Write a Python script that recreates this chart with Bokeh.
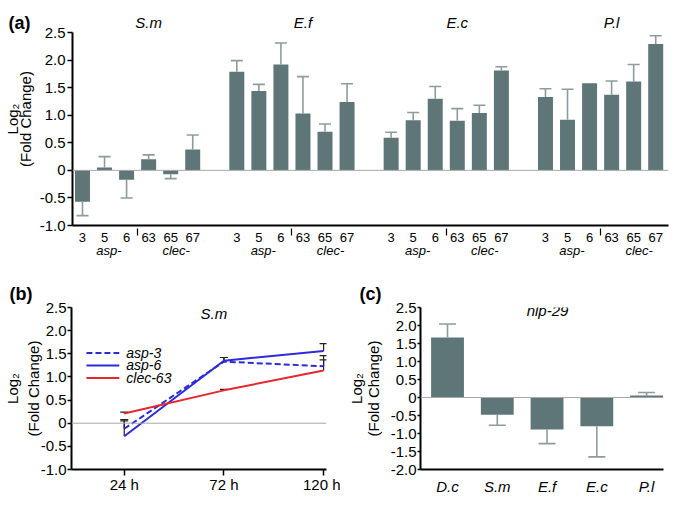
import math
from bokeh.plotting import figure
from bokeh.models import Range1d, FixedTicker, Label, Span, LinearAxis
from bokeh.layouts import column, row
from bokeh.embed import file_html
from bokeh.resources import INLINE

FONT = "Liberation Sans"
BAR = "#5f7679"
ERR = "#8d9b9d"
BLUE = "#2b2bd9"
RED = "#e8262b"

# ---------------- data ----------------
# panel (a)
species_a = ["S.m", "E.f", "E.c", "P.l"]
genes_a = ["3", "5", "6", "63", "65", "67"]
families_a = ["asp-", "clec-"]
sm_vals = [-0.57, 0.05, -0.17, 0.20, -0.07, 0.38]
sm_errs = [-0.82, 0.25, -0.50, 0.28, -0.15, 0.64]
ef_vals = [1.79, 1.44, 1.92, 1.03, 0.70, 1.24]
ef_errs = [1.99, 1.56, 2.31, 1.70, 0.84, 1.57]
ec_vals = [0.59, 0.91, 1.30, 0.90, 1.04, 1.81]
ec_errs = [0.69, 1.05, 1.52, 1.12, 1.18, 1.88]
pl_vals = [1.33, 0.92, 1.58, 1.37, 1.61, 2.29]
pl_errs = [1.48, 1.47, 1.58, 1.62, 1.92, 2.44]
yticks_a = [-1.0, -0.5, 0.0, 0.5, 1.0, 1.5, 2.0, 2.5]
ylabels_a = ["-1.0", "-0.5", "0", "0.5", "1.0", "1.5", "2.0", "2.5"]

# panel (b)
hours_b = [24, 72, 120]
times_b = ["24 h", "72 h", "120 h"]
series_b = ["asp-3", "asp-6", "clec-63"]
asp3_vals = [-0.12, 1.33, 1.23]
asp3_hi = [0.05, 1.42, 1.46]
asp6_vals = [-0.28, 1.35, 1.56]
asp6_hi = [0.08, 1.42, 1.72]
clec63_vals = [0.21, 0.71, 1.14]
clec63_hi = [0.24, 0.73, 1.37]

# panel (c)
species_c = ["D.c", "S.m", "E.f", "E.c", "P.l"]
nlp29_vals = [1.67, -0.48, -0.89, -0.80, 0.055]
nlp29_errs = [2.04, -0.77, -1.28, -1.65, 0.14]
yticks_c = [-2.0, -1.5, -1.0, -0.5, 0.0, 0.5, 1.0, 1.5, 2.0, 2.5]
ylabels_c = ["-2.0", "-1.5", "-1.0", "-0.5", "0", "0.5", "1.0", "1.5", "2.0", "2.5"]


def make_fig(w, h, xr, yr, bl, br, bt, bb, panel, toff, tstand):
    p = figure(width=w, height=h, x_range=Range1d(*xr), y_range=Range1d(*yr),
               output_backend="svg", toolbar_location=None,
               min_border_left=bl, min_border_right=br,
               min_border_top=bt, min_border_bottom=bb)
    p.outline_line_color = None
    p.xgrid.visible = False
    p.ygrid.visible = False
    p.background_fill_color = "white"
    p.border_fill_color = "white"
    for ax in (p.xaxis[0], p.yaxis[0]):
        ax.axis_line_color = "black"
        ax.axis_line_width = 2
        ax.major_tick_line_color = "black"
        ax.major_tick_line_width = 1.5
        ax.major_tick_in = 0
        ax.minor_tick_line_color = None
        ax.major_label_text_font = FONT
        ax.major_label_text_color = "black"
        ax.major_label_text_font_size = "15px"
        ax.axis_label_text_font = FONT
        ax.axis_label_text_font_size = "15px"
        ax.axis_label_text_font_style = "normal"
        ax.axis_label_text_color = "black"
    if panel is not None:
        p.title.text = panel
        p.title.align = "left"
        p.title.offset = toff
        p.title.vertical_align = "top"
        p.title.standoff = tstand
        p.title.text_font = FONT
        p.title.text_font_size = "18px"
        p.title.text_font_style = "bold"
        p.title.text_color = "black"
    p.tags = [dict(w=w, h=h, xr=xr, yr=yr, bl=bl, br=br, bt=bt, bb=bb)]
    return p


def add_outer_ylabel(p, text, standoff, ticks=(), labels=(), lab_standoff=0):
    ax = LinearAxis(ticker=FixedTicker(ticks=list(ticks)), axis_label=text,
                    major_label_overrides={t: l for t, l in zip(ticks, labels)},
                    axis_line_color=None, major_tick_line_color=None,
                    minor_tick_line_color=None, major_tick_out=0, major_tick_in=0,
                    minor_tick_out=0, minor_tick_in=0, major_label_standoff=lab_standoff,
                    major_label_text_font=FONT, major_label_text_font_size="18px",
                    major_label_text_font_style="bold", major_label_text_color="black",
                    axis_label_standoff=standoff, axis_label_text_font=FONT,
                    axis_label_text_font_size="15px", axis_label_text_font_style="normal",
                    axis_label_text_color="black")
    p.add_layout(ax, "left")


def to_data(p, ox, oy, px, py):
    g = p.tags[0]
    fw = g["w"] - g["bl"] - g["br"]
    fh = g["h"] - g["bt"] - g["bb"]
    x0, x1 = g["xr"]
    y0, y1 = g["yr"]
    return (x0 + (px - ox - g["bl"]) / fw * (x1 - x0),
            y1 - (py - oy - g["bt"]) / fh * (y1 - y0))


def inner_label(p, ox, oy, px, py, text, size="15px", style="normal", align="center"):
    x, y = to_data(p, ox, oy, px, py)
    p.add_layout(Label(x=x, y=y, text=text, text_font=FONT, text_font_size=size,
                       text_font_style=style, text_align=align, text_baseline="middle",
                       text_color="black"))


# ---------------- panel (a) ----------------
# frame spans 12..225 px vertically; the y axis itself is bounded to -1..2.5
pa = make_fig(677, 270, (-0.453, 26.58), (-1.0, 2.863), 72, 9, 12, 45, None, 0, 0)
all_vals = [sm_vals, ef_vals, ec_vals, pl_vals]
all_errs = [sm_errs, ef_errs, ec_errs, pl_errs]
xs, tops, ex, ey0, ey1 = [], [], [], [], []
tick_pos, tick_lab, sep_pos = [], [], []
fam_pos, fam_lab, sp_pos = [], [], []
for g, (vals, errs) in enumerate(zip(all_vals, all_errs)):
    for i, (v, e) in enumerate(zip(vals, errs)):
        x = g * 7 + i
        xs.append(x)
        tops.append(v)
        tick_pos.append(x)
        tick_lab.append(genes_a[i])
        if e != v:
            ex.append(x)
            ey0.append(v)
            ey1.append(e)
    sep_pos.append(g * 7 + 2.5)
    fam_pos += [g * 7 + 1.2, g * 7 + 4.25]
    fam_lab += families_a
    sp_pos.append(g * 7 + 3.0)

pa.add_layout(Span(location=0, dimension="width", line_color="#a8a8a8", line_width=1))
pa.vbar(x=xs, top=tops, bottom=0, width=0.68, fill_color=BAR, line_color=None)
pa.segment(x0=ex, y0=ey0, x1=ex, y1=ey1, line_color=ERR, line_width=1.6)
pa.scatter(x=ex, y=ey1, marker="dash", size=12, line_color=ERR, line_width=1.6)

xa = pa.xaxis[0]
xa.ticker = FixedTicker(ticks=tick_pos, minor_ticks=sep_pos)
xa.major_label_overrides = {t: l for t, l in zip(tick_pos, tick_lab)}
xa.major_tick_line_color = None
xa.major_tick_out = 0
xa.major_label_standoff = -3
xa.major_label_text_font_size = "13px"
xa.minor_tick_line_color = "black"
xa.minor_tick_line_width = 1.2
xa.minor_tick_in = -3
xa.minor_tick_out = 10

fam_axis = LinearAxis(ticker=FixedTicker(ticks=fam_pos),
                      major_label_overrides={t: l for t, l in zip(fam_pos, fam_lab)},
                      axis_line_color=None, major_tick_line_color=None,
                      minor_tick_line_color=None, major_tick_out=0, major_tick_in=0,
                      major_label_standoff=-2, major_label_text_font=FONT,
                      major_label_text_font_size="13px", major_label_text_font_style="italic",
                      major_label_text_color="black")
pa.add_layout(fam_axis, "below")

# species names over each group (inside the extended frame, above the axis top)
_, ysp = to_data(pa, 0, 0, 0, 22)
for sp, pos in zip(species_a, sp_pos):
    pa.add_layout(Label(x=pos, y=ysp, text=sp, text_font=FONT, text_font_size="15px",
                        text_font_style="italic", text_align="center",
                        text_baseline="middle", text_color="black"))

ya = pa.yaxis[0]
ya.ticker = FixedTicker(ticks=yticks_a)
ya.bounds = (yticks_a[0], yticks_a[-1])
ya.major_label_overrides = {t: l for t, l in zip(yticks_a, ylabels_a)}
ya.major_tick_out = 5
ya.major_label_standoff = 2
ya.axis_label = "(Fold Change)"
ya.axis_label_standoff = 3
add_outer_ylabel(pa, "Log\u2082", -15, ticks=[ysp], labels=["(a)"], lab_standoff=-17)

# ---------------- panel (b) ----------------
OXB, OYB = 0, 270
pb = make_fig(340, 231, (-1.4, 121.4), (-1.0, 2.5), 70, 14, 36, 32, "(b)", -62, 3)
pb.add_layout(Span(location=0, dimension="width", line_color="#a8a8a8", line_width=1))
styles = [(asp3_vals, asp3_hi, BLUE, "6 3"), (asp6_vals, asp6_hi, BLUE, "solid"),
          (clec63_vals, clec63_hi, RED, "solid")]
for vals, hi, col, dash in styles:
    pb.segment(x0=hours_b, y0=vals, x1=hours_b, y1=hi, line_color="#222222", line_width=1.2)
    pb.scatter(x=hours_b, y=hi, marker="dash", size=8, line_color="#222222", line_width=1.2)
for vals, hi, col, dash in styles:
    pb.line(x=hours_b, y=vals, line_color=col, line_width=2, line_dash=dash)

xb = pb.xaxis[0]
xb.ticker = FixedTicker(ticks=hours_b)
xb.major_label_overrides = {t: l for t, l in zip(hours_b, times_b)}
xb.major_tick_out = 6
xb.major_label_standoff = 0
yb = pb.yaxis[0]
yb.ticker = FixedTicker(ticks=yticks_a)
yb.major_label_overrides = {t: l for t, l in zip(yticks_a, ylabels_a)}
yb.major_tick_out = 4
yb.major_label_standoff = 1
yb.axis_label = "(Fold Change)"
yb.axis_label_standoff = -4
add_outer_ylabel(pb, "Log\u2082", 1)

# legend (manual, to match the compact row spacing)
row_y = [351.7, 364.3, 376.9]
for (vals, hi, col, dash), name, ry in zip(styles, series_b, row_y):
    lx0, ly = to_data(pb, OXB, OYB, 85, ry)
    lx1, _ = to_data(pb, OXB, OYB, 118, ry)
    pb.line(x=[lx0, lx1], y=[ly, ly], line_color=col, line_width=2, line_dash=dash)
    inner_label(pb, OXB, OYB, 125, ry, name, size="14px", style="italic", align="left")

inner_label(pb, OXB, OYB, 213, 312, "S.m", style="italic")

# ---------------- panel (c) ----------------
OXC, OYC = 340, 270
pc = make_fig(337, 231, (-0.543, 4.34), (-2.0, 2.5), 80, 14, 37, 31, "(c)", -61, 4)
pc.add_layout(Span(location=0, dimension="width", line_color="#a8a8a8", line_width=1))
xc = list(range(len(species_c)))
pc.vbar(x=xc, top=nlp29_vals, bottom=0, width=0.66, fill_color=BAR, line_color=None)
pc.segment(x0=xc, y0=nlp29_vals, x1=xc, y1=nlp29_errs, line_color=ERR, line_width=1.6)
pc.scatter(x=xc, y=nlp29_errs, marker="dash", size=17, line_color=ERR, line_width=1.6)

xca = pc.xaxis[0]
xca.ticker = FixedTicker(ticks=xc)
xca.major_label_overrides = {t: l for t, l in zip(xc, species_c)}
xca.major_tick_line_color = None
xca.major_tick_out = 0
xca.major_label_standoff = 8
xca.major_label_text_font_style = "italic"
yca = pc.yaxis[0]
yca.ticker = FixedTicker(ticks=yticks_c)
yca.major_label_overrides = {t: l for t, l in zip(yticks_c, ylabels_c)}
yca.major_tick_out = 3
yca.major_label_standoff = 1
yca.axis_label = "(Fold Change)"
yca.axis_label_standoff = 6
add_outer_ylabel(pc, "Log\u2082", -3)

inner_label(pc, OXC, OYC, 547, 310, "nlp-29", style="italic")

layout = column(pa, row(pb, pc, spacing=0), spacing=0)
open("out.html", "w").write(file_html(layout, INLINE))
